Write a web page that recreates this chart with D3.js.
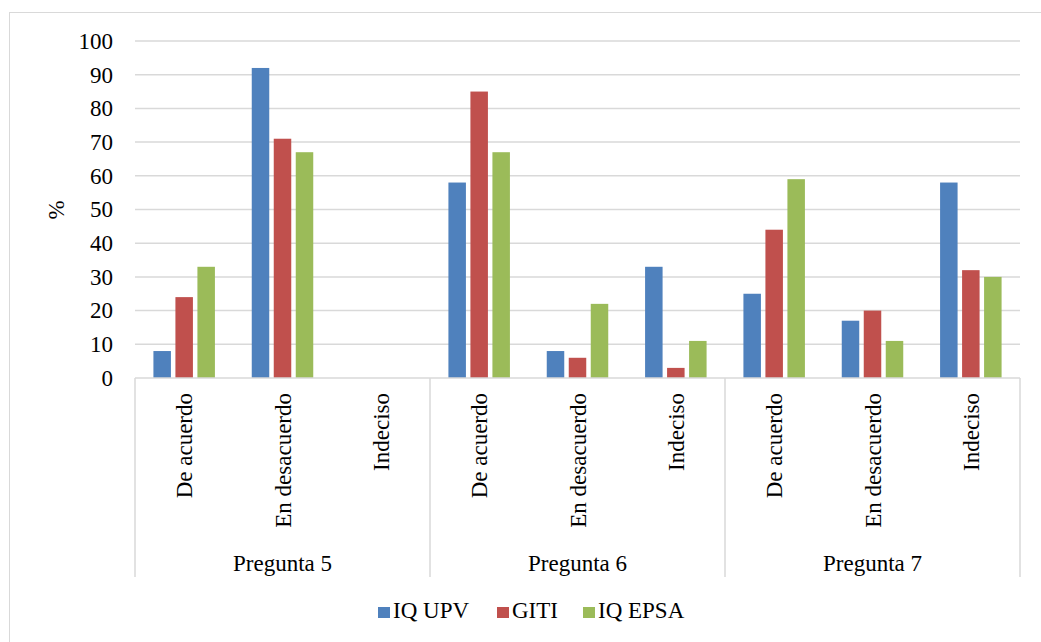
<!DOCTYPE html>
<html>
<head>
<meta charset="utf-8">
<script src="https://cdn.jsdelivr.net/npm/d3@7"></script>
<style>
  html, body { margin: 0; padding: 0; background: #fff; }
  svg { display: block; }
  svg text { font-family: "Liberation Serif", "Times New Roman", Times, serif; }
</style>
</head>
<body>
<svg id="chart" width="1041" height="642"></svg>
<script>
// Survey answers by question (percent of respondents)
const groups = ["Pregunta 5", "Pregunta 6", "Pregunta 7"];
const answers = ["De acuerdo", "En desacuerdo", "Indeciso"];
const seriesNames = ["IQ UPV", "GITI", "IQ EPSA"];
const seriesColors = ["#4f81bd", "#c0504d", "#9bbb59"];
const iqUpv  = [8, 92, 0,  58, 8, 33,  25, 17, 58];
const giti   = [24, 71, 0, 85, 6, 3,   44, 20, 32];
const iqEpsa = [33, 67, 0, 67, 22, 11, 59, 11, 30];
const yTicks = [0, 10, 20, 30, 40, 50, 60, 70, 80, 90, 100];

const series = [iqUpv, giti, iqEpsa];
const svg = d3.select("#chart");
const fontSize = 23;
const serif = "'Liberation Serif', 'Times New Roman', Times, serif";

const plot = { left: 135, right: 1020, top: 41, bottom: 378 };

// Outer chart frame
svg.append("rect")
  .attr("x", 9.5).attr("y", 12.5)
  .attr("width", 1040).attr("height", 640)
  .attr("fill", "none").attr("stroke", "#d9d9d9").attr("stroke-width", 1);

const y = d3.scaleLinear().domain([0, 100]).range([plot.bottom, plot.top]);

// Flat list of (group, answer) slots
const slots = [];
groups.forEach((g, gi) => answers.forEach((a, ai) => slots.push({ g, a, gi, ai, key: gi + "|" + ai })));

const xGroup = d3.scaleBand().domain(groups).range([plot.left, plot.right]).padding(0);
const xSlot = d3.scaleBand().domain(slots.map(s => s.key)).range([plot.left, plot.right]).padding(0);
const barStep = 22, barW = 17.5;
const xSeries = d3.scalePoint().domain(seriesNames).range([-barStep, barStep]);

// Horizontal gridlines
svg.append("g").selectAll("line").data(yTicks.filter(t => t > 0)).join("line")
  .attr("x1", plot.left).attr("x2", plot.right)
  .attr("y1", d => y(d)).attr("y2", d => y(d))
  .attr("stroke", "#d9d9d9").attr("stroke-width", 1.5);

// Y axis tick labels
const yAxis = d3.axisLeft(y).tickValues(yTicks).tickSize(0).tickPadding(22);
const yg = svg.append("g").attr("transform", `translate(${plot.left},0)`).call(yAxis)
  .attr("font-family", serif).attr("font-size", fontSize);
yg.select(".domain").remove();
yg.selectAll("text").attr("fill", "#000");

// Y axis title
svg.append("text")
  .attr("transform", `translate(64,210) rotate(-90)`)
  .attr("text-anchor", "middle")
  .attr("font-family", serif)
  .attr("font-size", fontSize).attr("fill", "#000")
  .text("%");

// Bars
const bars = [];
slots.forEach((s, i) => series.forEach((vals, si) => bars.push({ slot: s, name: seriesNames[si], v: vals[i], c: seriesColors[si] })));
svg.append("g").selectAll("rect").data(bars.filter(b => b.v > 0)).join("rect")
  .attr("x", b => xSlot(b.slot.key) + xSlot.bandwidth() / 2 + xSeries(b.name) - barW / 2)
  .attr("width", barW)
  .attr("y", b => y(b.v))
  .attr("height", b => y(0) - y(b.v))
  .attr("fill", b => b.c);

// Category axis line
svg.append("line")
  .attr("x1", plot.left).attr("x2", plot.right)
  .attr("y1", plot.bottom).attr("y2", plot.bottom)
  .attr("stroke", "#d9d9d9").attr("stroke-width", 1.5);

// Group separators
const sepBottom = 577;
const seps = groups.map(g => xGroup(g)).concat([plot.right]);
svg.append("g").selectAll("line").data(seps).join("line")
  .attr("x1", d => d).attr("x2", d => d)
  .attr("y1", plot.bottom).attr("y2", sepBottom)
  .attr("stroke", "#d9d9d9").attr("stroke-width", 1.5);

// Answer labels (rotated)
svg.append("g").attr("font-family", serif).selectAll("text").data(slots).join("text")
  .attr("transform", s => `translate(${xSlot(s.key) + xSlot.bandwidth() / 2 + 8},393) rotate(-90)`)
  .attr("text-anchor", "end")
  .attr("font-size", fontSize).attr("fill", "#000")
  .text(s => s.a);

// Group labels
svg.append("g").attr("font-family", serif).selectAll("text").data(groups).join("text")
  .attr("x", g => xGroup(g) + xGroup.bandwidth() / 2)
  .attr("y", 571)
  .attr("text-anchor", "middle")
  .attr("font-size", fontSize).attr("fill", "#000")
  .text(g => g);

// Legend
const legendX = [378, 497, 583];
const lg = svg.append("g").attr("font-family", serif).selectAll("g").data(seriesNames).join("g")
  .attr("transform", (d, i) => `translate(${legendX[i]},607)`);
lg.append("rect").attr("width", 12).attr("height", 11).attr("fill", (d, i) => seriesColors[i]);
lg.append("text").attr("x", 15).attr("y", 11)
  .attr("font-size", fontSize).attr("fill", "#000")
  .text(d => d);
</script>
</body>
</html>
